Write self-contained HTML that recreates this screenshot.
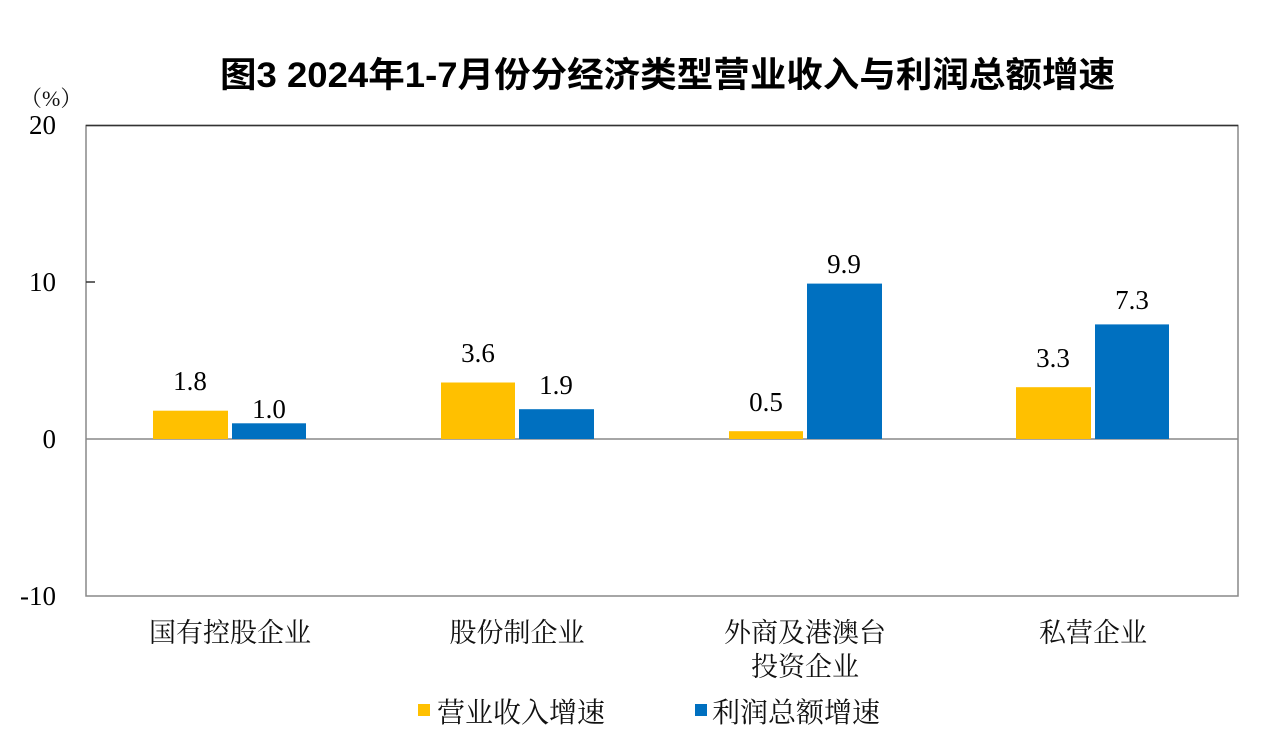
<!DOCTYPE html>
<html><head><meta charset="utf-8"><style>
html,body{margin:0;padding:0;background:#fff;}
svg{display:block;}
.t{font-family:"Liberation Sans","Noto Sans CJK SC",sans-serif;font-weight:bold;}
.n{font-family:"Liberation Serif","Noto Serif CJK SC",serif;fill:#000;}
.c{font-family:"Liberation Serif","Noto Serif CJK SC","Noto Sans CJK SC",serif;fill:#111;}
</style></head><body>
<svg width="1280" height="734" viewBox="0 0 1280 734" xmlns="http://www.w3.org/2000/svg">
<text class="t" x="220" y="87" font-size="35" textLength="895" lengthAdjust="spacingAndGlyphs">图3 2024年1-7月份分经济类型营业收入与利润总额增速</text>
<text class="c" x="20" y="106" font-size="22">（%）</text>
<rect x="86" y="125.5" width="1152" height="470.5" fill="none" stroke="#888" stroke-width="1.5"/>
<line x1="86" y1="125.5" x2="1238" y2="125.5" stroke="#333" stroke-width="1.5"/>
<line x1="86" y1="282" x2="95" y2="282" stroke="#333" stroke-width="1.5"/>
<line x1="86" y1="439" x2="1238" y2="439" stroke="#888" stroke-width="1.5"/>
<g class="n" font-size="27" text-anchor="end">
<text x="56" y="134">20</text>
<text x="56" y="291">10</text>
<text x="56" y="448">0</text>
<text x="56" y="605">-10</text>
</g>
<g>
<rect x="153" y="410.7" width="75" height="28.3" fill="#FFC000"/>
<rect x="232" y="423.3" width="74" height="15.7" fill="#0070C0"/>
<rect x="441" y="382.5" width="74" height="56.5" fill="#FFC000"/>
<rect x="519" y="409.2" width="75" height="29.8" fill="#0070C0"/>
<rect x="729" y="431.2" width="74" height="7.8" fill="#FFC000"/>
<rect x="807" y="283.6" width="75" height="155.4" fill="#0070C0"/>
<rect x="1016" y="387.2" width="75" height="51.8" fill="#FFC000"/>
<rect x="1095" y="324.4" width="74" height="114.6" fill="#0070C0"/>
</g>
<g class="n" font-size="27" text-anchor="middle">
<text x="190" y="390">1.8</text>
<text x="269" y="418">1.0</text>
<text x="478" y="362">3.6</text>
<text x="556" y="394">1.9</text>
<text x="766" y="411">0.5</text>
<text x="844" y="273">9.9</text>
<text x="1053" y="367">3.3</text>
<text x="1132" y="309">7.3</text>
</g>
<g class="c" font-size="27" text-anchor="middle">
<text x="230" y="642">国有控股企业</text>
<text x="517" y="642">股份制企业</text>
<text x="805" y="642">外商及港澳台</text>
<text x="805" y="676">投资企业</text>
<text x="1093" y="642">私营企业</text>
</g>
<rect x="418" y="704" width="12" height="12" fill="#FFC000"/>
<text class="c" x="437" y="722" font-size="28">营业收入增速</text>
<rect x="695" y="704" width="12" height="12" fill="#0070C0"/>
<text class="c" x="712" y="722" font-size="28">利润总额增速</text>
</svg>
</body></html>
